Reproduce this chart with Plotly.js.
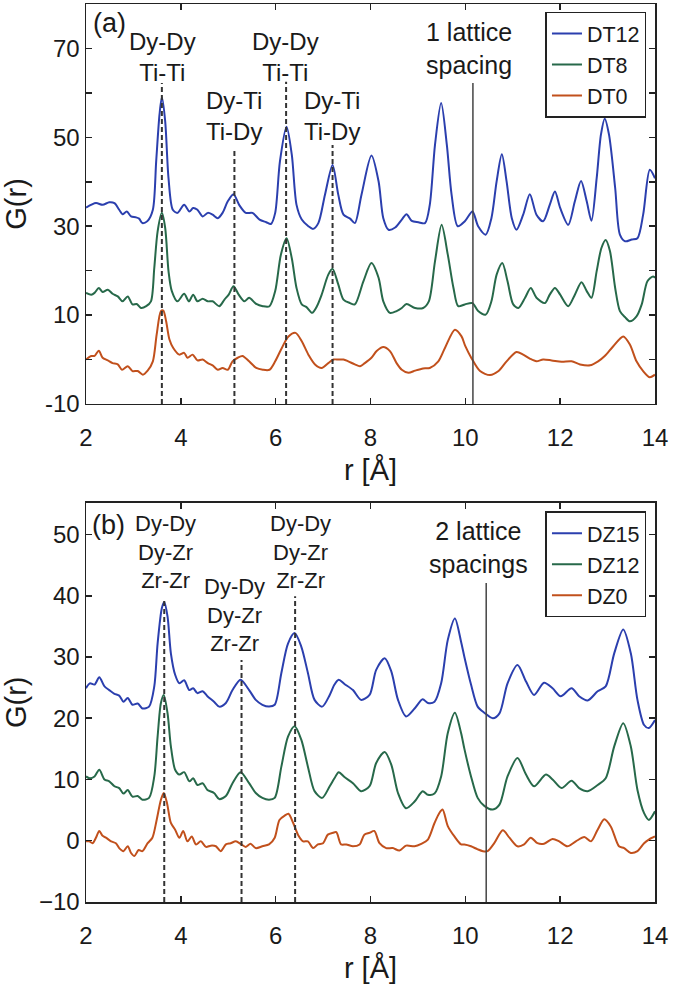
<!DOCTYPE html>
<html lang="en">
<head>
    <meta charset="UTF-8">
    <title>G(r) for DT and DZ samples</title>
    <script src="https://cdn.plot.ly/plotly-3.0.1.min.js"></script>
    <style>
        body { margin: 0; background: #fff; }
        #chart { width: 675px; height: 991px; }
    </style>
</head>
<body>
    <div id="chart"></div>

    <script>
        // Panel (a): DT series, r in Å, G(r)
        const dt12R = [2.00,2.21,2.35,2.49,2.60,2.70,2.77,2.86,2.95,3.05,3.12,3.19,3.30,3.41,3.48,3.55,3.60,3.67,3.74,3.83,3.93,4.07,4.18,4.26,4.35,4.46,4.57,4.67,4.78,4.88,4.99,5.11,5.23,5.37,5.51,5.66,5.80,5.90,
            5.99,6.09,6.23,6.34,6.44,6.55,6.69,6.79,6.90,7.04,7.20,7.32,7.43,7.57,7.67,7.81,8.02,8.17,8.27,8.38,8.52,8.66,8.76,8.87,9.01,9.15,9.25,9.36,9.49,9.61,9.71,9.84,
            9.99,10.15,10.27,10.43,10.55,10.66,10.77,10.87,10.98,11.08,11.22,11.36,11.50,11.64,11.78,11.89,12.00,12.17,12.31,12.44,12.56,12.66,12.77,12.86,12.94,13.03,13.16,13.26,13.37,13.51,13.63,13.75,13.89,14.0];
        const dt12G = [34.2,35.2,34.8,35.4,35.2,33.7,32.7,33.3,32.2,32.0,31.7,30.7,31.2,33.7,44.6,55.1,59.0,53.6,40.8,33.7,33.0,34.8,33.3,34.1,33.7,32.2,33.0,32.6,31.8,33.0,35.6,37.2,34.8,33.0,33.0,31.5,30.9,30.5,
            33.0,44.6,52.4,46.1,34.8,31.5,30.0,29.4,30.7,37.1,43.8,37.1,32.6,31.7,30.7,37.1,45.9,40.1,31.8,29.2,29.7,31.5,32.7,31.2,30.9,30.7,34.8,48.3,57.7,48.3,37.1,30.0,
            31.1,33.3,30.0,28.1,31.8,40.1,46.2,40.1,31.8,29.2,32.6,37.2,32.6,31.1,34.8,37.8,34.1,30.3,35.6,40.2,35.6,31.2,40.8,50.6,54.2,50.6,38.6,28.1,26.6,27.0,27.3,32.6,42.7,40.8];

        const dt8R = [2.00,2.11,2.18,2.27,2.35,2.46,2.56,2.67,2.77,2.88,2.98,3.07,3.16,3.27,3.37,3.44,3.51,3.60,3.67,3.74,3.81,3.93,4.07,4.17,4.26,4.35,4.46,4.57,4.67,4.81,4.92,5.01,5.11,5.22,5.34,5.44,5.59,5.73,5.87,
            5.99,6.11,6.23,6.34,6.44,6.55,6.65,6.77,6.87,6.97,7.11,7.20,7.32,7.43,7.57,7.67,7.85,8.02,8.17,8.27,8.41,8.55,8.66,8.76,8.94,9.11,9.23,9.36,9.50,9.63,9.75,9.85,
            9.99,10.15,10.27,10.43,10.55,10.66,10.78,10.89,11.01,11.12,11.26,11.38,11.50,11.68,11.78,11.89,12.00,12.17,12.31,12.45,12.56,12.66,12.77,12.87,12.96,13.05,13.16,13.26,13.37,13.47,13.61,13.72,13.84,13.96,14.0];
        const dt8G = [15.0,14.6,15.0,16.1,15.2,15.7,14.8,14.2,13.1,14.2,12.4,12.5,11.6,12.0,13.1,20.6,28.8,33.0,29.6,19.9,15.4,13.1,14.8,13.1,14.6,13.1,13.7,13.1,13.1,12.0,13.5,14.6,16.5,14.6,13.1,13.9,12.5,12.0,12.0,
            15.4,23.6,27.3,22.8,16.1,12.4,11.8,10.5,12.0,14.6,19.1,20.4,16.9,13.5,12.7,12.4,17.6,21.7,18.4,13.1,10.5,10.9,11.6,12.5,11.6,11.6,13.1,22.1,30.3,23.6,16.1,12.0,
            12.4,12.7,10.9,10.1,13.1,19.1,21.7,17.6,12.4,11.6,13.9,16.1,13.9,12.7,14.6,16.1,14.6,12.0,14.6,17.4,15.4,13.9,19.9,25.1,26.9,24.4,16.1,10.9,9.5,8.6,9.7,12.4,17.6,18.7,18.4];

        const dt0R = [2.00,2.11,2.18,2.27,2.35,2.46,2.56,2.67,2.76,2.88,2.98,3.09,3.20,3.30,3.41,3.49,3.58,3.63,3.69,3.76,3.84,3.97,4.07,4.14,4.25,4.35,4.46,4.57,4.67,4.78,4.88,4.99,5.09,5.20,5.30,5.44,5.59,5.73,5.87,
            5.99,6.13,6.27,6.42,6.55,6.69,6.83,6.97,7.11,7.22,7.32,7.43,7.53,7.67,7.78,7.88,8.02,8.13,8.27,8.41,8.55,8.66,8.80,8.94,9.11,9.25,9.43,9.57,9.78,9.92,
            10.0,10.13,10.31,10.52,10.70,10.87,11.08,11.22,11.36,11.50,11.64,11.82,12.03,12.24,12.42,12.63,12.80,12.94,13.12,13.33,13.47,13.61,13.75,13.89,14.0];
        const dt0G = [0.0,0.8,0.8,2.0,0.4,-0.2,-0.8,-1.1,-2.3,-1.5,-2.6,-2.6,-3.4,-2.5,-0.4,5.6,10.9,11.0,8.6,4.5,2.6,1.1,1.5,0.4,1.1,-0.2,0.0,-0.8,-1.3,-2.3,-1.9,-2.3,-0.4,0.4,0.8,-0.4,-1.9,-2.3,-2.3,
            -0.4,2.6,5.2,6.0,4.1,1.1,-1.1,-1.9,-0.8,0.0,0.0,0.0,-0.4,-1.1,-1.5,-0.8,0.4,1.9,2.8,1.9,-0.8,-2.3,-3.0,-2.5,-2.0,-1.9,-0.4,2.6,6.7,5.2,
            3.0,0.3,-2.6,-3.5,-2.6,-0.4,1.7,1.1,0.2,-0.4,0.0,-0.2,-0.5,-0.4,-1.1,-1.3,-0.4,0.8,3.0,5.2,3.4,-0.4,-2.6,-4.0,-3.4];

        // Panel (b): DZ series
        const dz15R = [2.00,2.08,2.18,2.28,2.39,2.49,2.60,2.70,2.79,2.88,2.98,3.09,3.19,3.33,3.44,3.51,3.60,3.65,3.72,3.79,3.88,3.97,4.07,4.18,4.26,4.35,4.46,4.56,4.70,4.81,4.95,5.09,5.26,5.44,5.58,5.72,5.86,
            5.98,6.12,6.26,6.40,6.54,6.68,6.82,6.98,7.14,7.24,7.33,7.45,7.63,7.80,7.98,8.12,8.30,8.44,8.58,8.75,8.93,9.10,9.21,9.35,9.49,9.63,9.78,9.91,
            9.98,10.12,10.26,10.40,10.58,10.72,10.89,11.10,11.28,11.45,11.66,11.84,12.01,12.24,12.40,12.58,12.79,12.96,13.14,13.33,13.49,13.63,13.77,13.87,14.0];
        const dz15G = [24.9,25.7,25.5,26.7,25.2,24.6,24.0,23.7,22.7,23.3,22.2,22.4,21.6,21.9,25.2,32.2,38.0,39.0,36.6,30.6,27.1,25.7,26.2,24.6,24.9,24.1,24.4,23.6,22.7,21.9,22.5,24.6,26.3,24.6,23.0,22.2,21.9,
            22.2,27.4,32.2,33.9,31.7,27.4,23.0,21.9,23.8,25.5,26.3,25.6,24.6,23.0,23.8,27.9,29.8,27.6,23.0,20.3,21.6,23.1,22.5,22.7,25.7,32.8,36.3,32.5,
            30.0,25.5,21.9,20.9,20.0,20.8,25.7,28.7,26.0,23.8,25.8,24.9,23.6,24.9,23.6,22.9,24.4,25.2,30.6,34.5,30.6,23.0,18.9,18.4,19.7];

        const dz12R = [2.00,2.08,2.18,2.28,2.39,2.49,2.60,2.70,2.79,2.88,2.98,3.09,3.19,3.33,3.44,3.51,3.58,3.64,3.72,3.79,3.88,3.97,4.07,4.18,4.26,4.35,4.46,4.56,4.70,4.81,4.95,5.09,5.26,5.44,5.58,5.72,5.86,
            5.98,6.12,6.26,6.40,6.54,6.68,6.82,6.98,7.14,7.24,7.33,7.45,7.63,7.80,7.98,8.12,8.30,8.44,8.58,8.75,8.93,9.10,9.21,9.35,9.49,9.63,9.78,9.91,
            9.98,10.12,10.26,10.40,10.58,10.72,10.89,11.10,11.28,11.45,11.70,11.84,12.03,12.24,12.40,12.58,12.79,12.96,13.14,13.33,13.49,13.63,13.77,13.87,14.0];
        const dz12G = [10.5,10.2,10.5,11.6,10.0,9.7,8.9,8.6,7.7,8.3,7.2,7.3,6.7,7.0,10.5,17.0,22.5,23.8,20.8,15.4,11.6,10.8,11.2,9.7,10.2,9.1,9.4,8.3,7.8,6.8,7.3,9.4,11.2,9.4,7.8,7.0,6.7,
            7.0,12.1,17.0,18.7,16.5,12.1,8.1,7.0,8.9,10.2,11.2,10.4,9.4,8.1,8.9,12.7,14.5,12.4,7.8,5.3,6.4,8.1,7.5,7.7,10.5,17.6,20.9,17.6,
            15.0,10.5,7.0,5.7,5.1,5.9,10.5,13.5,10.8,8.9,10.8,10.0,8.6,9.8,8.6,8.1,9.1,10.2,15.4,19.2,15.4,8.3,4.5,3.4,4.8];

        const dz0R = [2.00,2.07,2.14,2.21,2.28,2.35,2.42,2.53,2.63,2.70,2.79,2.88,2.95,3.02,3.11,3.19,3.30,3.40,3.49,3.58,3.64,3.71,3.79,3.88,3.97,4.05,4.14,4.23,4.32,4.42,4.53,4.63,4.74,4.84,4.95,5.05,5.16,5.26,5.37,5.47,5.58,5.72,5.86,
            5.98,6.08,6.19,6.27,6.37,6.47,6.58,6.68,6.79,6.89,7.00,7.10,7.21,7.28,7.38,7.49,7.63,7.77,7.87,7.98,8.08,8.19,8.33,8.47,8.61,8.75,8.93,9.07,9.21,9.35,9.45,9.52,9.63,9.77,9.91,
            9.98,10.12,10.26,10.37,10.47,10.61,10.79,10.93,11.10,11.24,11.38,11.52,11.66,11.84,11.98,12.15,12.33,12.51,12.65,12.79,12.93,13.07,13.24,13.35,13.49,13.63,13.77,13.87,14.0];
        const dz0G = [-0.1,-0.1,-0.4,0.5,1.6,0.8,0.5,-0.1,-0.4,-1.2,-1.7,-0.9,-2.0,-2.5,-1.5,-1.7,-0.4,0.5,3.4,6.7,7.8,6.1,2.9,1.8,0.5,1.6,-0.1,0.7,-0.6,-0.1,-1.0,-0.8,-0.9,-1.7,-0.6,-0.4,-0.1,-0.5,-1.0,-0.5,-1.2,-0.9,-0.6,
            0.5,3.4,4.1,4.4,2.9,1.0,-0.1,-0.1,-1.2,-0.6,-0.4,1.0,1.3,1.4,-0.6,-0.6,-0.9,-0.6,1.0,1.3,1.6,-0.4,-1.2,-1.2,-1.6,-0.8,-0.9,-0.5,0.2,2.9,4.5,5.1,2.4,0.7,-0.6,
            -0.6,-0.9,-1.4,-1.7,-1.7,-0.4,1.7,0.5,-0.9,-0.6,0.5,-0.4,-0.5,0.3,-0.1,-0.9,-0.1,0.6,-0.1,1.8,3.5,2.3,-0.9,-1.2,-2.0,-1.7,-0.4,0.2,0.7];

        // peak markers and labels
        const dtPeakR = [3.6, 5.13, 6.22, 7.2];
        const dtPeakTop = [62.2, 47.6, 62.5, 48.3];
        const dtLabels = ['Dy-Dy<br>Ti-Ti', 'Dy-Ti<br>Ti-Dy', 'Dy-Dy<br>Ti-Ti', 'Dy-Ti<br>Ti-Dy'];
        const dtLabelR = [3.62, 5.12, 6.2, 7.19];
        const dtLabelG = [68.1, 54.8, 68.1, 54.8];
        const dtLatticeR = 10.16, dtLatticeTop = 62.2;

        const dzPeakR = [3.65, 5.28, 6.41];
        const dzPeakTop = [39.6, 29.5, 39.9];
        const dzLabels = ['Dy-Dy<br>Dy-Zr<br>Zr-Zr', 'Dy-Dy<br>Dy-Zr<br>Zr-Zr', 'Dy-Dy<br>Dy-Zr<br>Zr-Zr'];
        const dzLabelR = [3.68, 5.14, 6.53];
        const dzLabelG = [47.2, 36.9, 47.2];
        const dzLatticeR = 10.44, dzLatticeTop = 42.1;

        const blue = '#2b3fae', green = '#27694a', orange = '#c1501c';
        const ink = '#222222';
        const fontFam = '"Liberation Sans", Arial, sans-serif';

        function curve(x, y, name, color, xa, ya, legend) {
            return {
                x: x, y: y, name: name, type: 'scatter', mode: 'lines',
                xaxis: xa, yaxis: ya, legend: legend,
                line: { color: color, width: 2, shape: 'spline', smoothing: 0.8 }
            };
        }

        const traces = [
            curve(dt12R, dt12G, 'DT12', blue, 'x', 'y', 'legend'),
            curve(dt8R, dt8G, 'DT8', green, 'x', 'y', 'legend'),
            curve(dt0R, dt0G, 'DT0', orange, 'x', 'y', 'legend'),
            curve(dz15R, dz15G, 'DZ15', blue, 'x2', 'y2', 'legend2'),
            curve(dz12R, dz12G, 'DZ12', green, 'x2', 'y2', 'legend2'),
            curve(dz0R, dz0G, 'DZ0', orange, 'x2', 'y2', 'legend2')
        ];

        const shapes = [];
        const annotations = [];
        dtPeakR.forEach((r, i) => {
            shapes.push({ type: 'line', xref: 'x', yref: 'y', x0: r, x1: r, y0: -10, y1: dtPeakTop[i],
                line: { color: '#333', width: 2, dash: '5px,3px' } });
        });
        dzPeakR.forEach((r, i) => {
            shapes.push({ type: 'line', xref: 'x2', yref: 'y2', x0: r, x1: r, y0: -10, y1: dzPeakTop[i],
                line: { color: '#333', width: 2, dash: '5px,3px' } });
        });
        shapes.push({ type: 'line', xref: 'x', yref: 'y', x0: dtLatticeR, x1: dtLatticeR, y0: -10, y1: dtLatticeTop,
            line: { color: '#444', width: 1.5 } });
        shapes.push({ type: 'line', xref: 'x2', yref: 'y2', x0: dzLatticeR, x1: dzLatticeR, y0: -10, y1: dzLatticeTop,
            line: { color: '#444', width: 1.5 } });

        dtLabels.forEach((t, i) => {
            annotations.push({ text: t, xref: 'x', yref: 'y', x: dtLabelR[i], y: dtLabelG[i],
                showarrow: false, xanchor: 'center', yanchor: 'middle', font: { size: 24, color: '#1a1a1a' } });
        });
        dzLabels.forEach((t, i) => {
            annotations.push({ text: t, xref: 'x2', yref: 'y2', x: dzLabelR[i], y: dzLabelG[i],
                showarrow: false, xanchor: 'center', yanchor: 'middle', font: { size: 22, color: '#1a1a1a' } });
        });
        annotations.push({ text: '1 lattice<br>spacing', xref: 'x', yref: 'y', x: 10.08, y: 70.0,
            showarrow: false, font: { size: 25, color: '#1a1a1a' } });
        annotations.push({ text: '2 lattice<br>spacings', xref: 'x2', yref: 'y2', x: 10.28, y: 47.8,
            showarrow: false, font: { size: 25, color: '#1a1a1a' } });
        annotations.push({ text: '(a)', xref: 'x', yref: 'y', x: 2.5, y: 75.7,
            showarrow: false, font: { size: 27, color: '#1a1a1a' } });
        annotations.push({ text: '(b)', xref: 'x2', yref: 'y2', x: 2.48, y: 51.5,
            showarrow: false, font: { size: 27, color: '#1a1a1a' } });

        const axisBase = {
            showgrid: false, zeroline: false, showline: true, mirror: 'ticks',
            linecolor: ink, linewidth: 1.5, ticks: 'inside', ticklen: 6, tickwidth: 1.5, tickcolor: ink,
            tickfont: { size: 24, color: '#1a1a1a' }
        };

        const legendBase = {
            xanchor: 'right', yanchor: 'top',
            bgcolor: '#fff', bordercolor: ink, borderwidth: 1.5,
            font: { size: 21.5, color: '#1a1a1a' }, tracegroupgap: 0
        };

        const layout = {
            width: 675, height: 991,
            margin: { l: 86, r: 20, t: 4, b: 89 },
            paper_bgcolor: '#fff', plot_bgcolor: '#fff',
            font: { family: fontFam, color: '#1a1a1a' },
            showlegend: true,
            xaxis: Object.assign({}, axisBase, {
                anchor: 'y', domain: [0, 1], range: [2, 14], tickvals: [2, 4, 6, 8, 10, 12, 14],
                ticklabelstandoff: 12,
                title: { text: 'r [Å]', font: { size: 29 }, standoff: 9 }
            }),
            yaxis: Object.assign({}, axisBase, {
                anchor: 'x', domain: [0.5546, 1], range: [-10, 80],
                tickvals: [-10, 0, 10, 20, 30, 40, 50, 60, 70],
                ticktext: ['-10', '', '10', '', '30', '', '50', '', '70'],
                title: { text: 'G(r)', font: { size: 29 }, standoff: 10 }
            }),
            xaxis2: Object.assign({}, axisBase, {
                anchor: 'y2', domain: [0, 1], range: [2, 14], tickvals: [2, 4, 6, 8, 10, 12, 14],
                ticklabelstandoff: 12,
                title: { text: 'r [Å]', font: { size: 29 }, standoff: 9 }
            }),
            yaxis2: Object.assign({}, axisBase, {
                anchor: 'x2', domain: [0, 0.4447], range: [-10, 55.2],
                tickvals: [-10, 0, 10, 20, 30, 40, 50],
                title: { text: 'G(r)', font: { size: 29 }, standoff: 10 }
            }),
            legend: Object.assign({}, legendBase, { x: 0.985, y: 0.9915 }),
            legend2: Object.assign({}, legendBase, { x: 0.985, y: 0.4350 }),
            shapes: shapes,
            annotations: annotations
        };

        Plotly.newPlot('chart', traces, layout, { displayModeBar: false, staticPlot: true });
    </script>
</body>
</html>
